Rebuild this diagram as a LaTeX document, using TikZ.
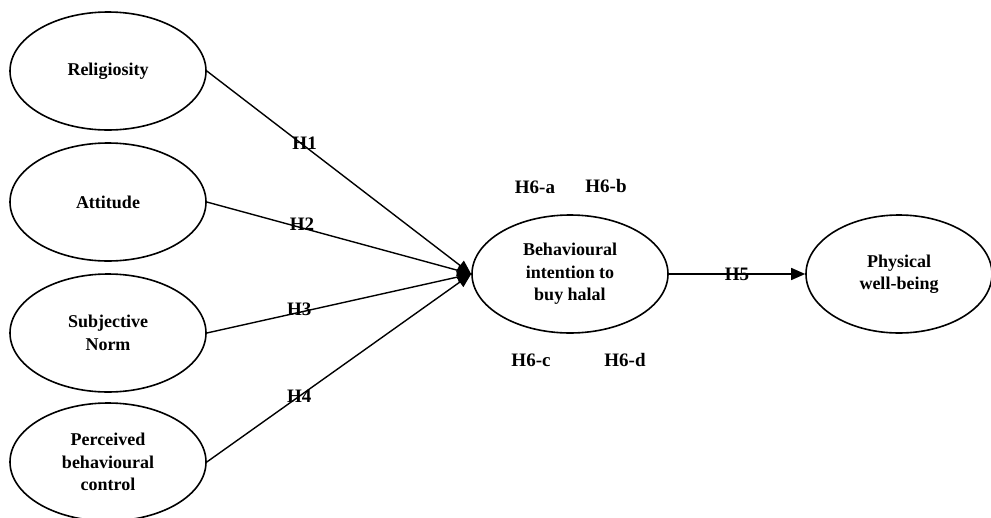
\documentclass[tikz,border=0pt]{standalone}
\usepackage{fontspec}
\setmainfont{Liberation Serif}
\usetikzlibrary{shapes.geometric,arrows.meta}
\begin{document}
\begin{tikzpicture}[x=1pt,y=-1pt,
  construct/.style={draw, line width=1.6pt, ellipse, minimum width=196pt, minimum height=118pt, inner sep=0pt, align=center, font=\fontsize{18}{22.5}\selectfont\bfseries},
  link/.style={line width=1.4pt, -{Triangle[length=14pt,width=12pt]}},
  hlab/.style={font=\fontsize{19}{22}\selectfont\bfseries, inner sep=0pt}]
\useasboundingbox (0,0) rectangle (991,517);
\node[construct] (rel) at (108,71) {Religiosity};
\node[construct] (att) at (108,202) {Attitude};
\node[construct] (sn) at (108,333) {Subjective\\Norm};
\node[construct] (pbc) at (108,462) {Perceived\\behavioural\\control};
\node[construct] (bi) at (570,274) {Behavioural\\intention to\\buy halal};
\node[construct, minimum width=186pt] (pw) at (899,274) {Physical\\well-being};
\draw[link] (rel.east) -- node[hlab, pos=0.37, yshift=3pt] {H1} (bi.west);
\draw[link] (att.east) -- node[hlab, pos=0.36, yshift=4pt] {H2} (bi.west);
\draw[link] (sn.east) -- node[hlab, pos=0.35, yshift=3pt] {H3} (bi.west);
\draw[link] (pbc.east) -- node[hlab, pos=0.35, yshift=0pt] {H4} (bi.west);
\draw[link] (bi.east) -- node[hlab, pos=0.5] {H5} (pw.west);
\node[hlab] (h6a) at (535,187) {H6-a};
\node[hlab] (h6b) at (606,186) {H6-b};
\node[hlab] (h6c) at (531,360) {H6-c};
\node[hlab] (h6d) at (625,360) {H6-d};
\end{tikzpicture}
\end{document}
